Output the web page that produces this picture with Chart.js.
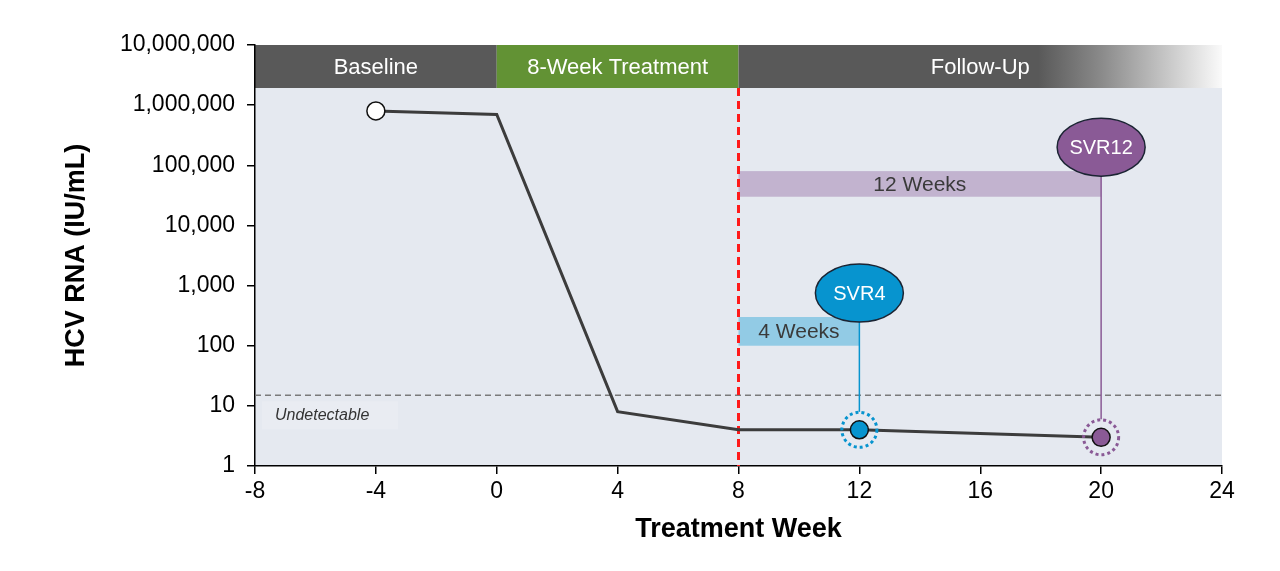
<!DOCTYPE html>
<html>
<head>
<meta charset="utf-8">
<script src="https://cdn.jsdelivr.net/npm/chart.js@4"></script>
<style>
  html, body { margin: 0; padding: 0; background: #fff; }
</style>
</head>
<body>
<canvas id="myChart" width="1280" height="571"></canvas>
<script>
// HCV RNA course: weeks vs IU/mL
const weeks = [-4, 0, 4, 8, 12, 20];
const hcvRna = [800000, 700000, 8, 4, 4, 3];
const yTicks = [1, 10, 100, 1000, 10000, 100000, 1000000, 10000000];

// study phases (header band)
const phaseLabels = ["Baseline", "8-Week Treatment", "Follow-Up"];
const phaseStart = [-8, 0, 8];
const phaseEnd = [0, 8, 24];

// follow-up windows
const windowLabels = ["4 Weeks", "12 Weeks"];
const windowStart = [8, 8];
const windowEnd = [12, 20];
const windowLow = [100, 30000];
const windowHigh = [300, 80000];

// SVR call-outs
const svrLabels = ["SVR4", "SVR12"];
const svrWeek = [12, 20];
const svrBubble = [750, 200000];
const svrLevel = [4, 3];

const lloq = 15;
const treatmentEndWeek = 8;

const FONT = "'Liberation Sans', Arial, Helvetica, sans-serif";
const HEADER_H = 43;
const phaseColors = ["#595959", "#629234", "#595959"];
const windowColors = ["#92cbe5", "#c2b3cf"];
const svrColors = ["#0794cf", "#8a5a96"];

const decor = {
  id: "decor",
  beforeDraw(chart) {
    const { ctx, chartArea: a, scales: { x, y } } = chart;
    ctx.save();
    // plot background under the header
    ctx.fillStyle = "#e5e9f0";
    ctx.fillRect(a.left, a.top + HEADER_H, a.right - a.left, a.bottom - a.top - HEADER_H);

    // header bands
    ctx.font = "22px " + FONT;
    ctx.textAlign = "center";
    ctx.textBaseline = "middle";
    phaseLabels.forEach((label, i) => {
      const x0 = x.getPixelForValue(phaseStart[i]);
      const x1 = x.getPixelForValue(phaseEnd[i]);
      if (i === phaseLabels.length - 1) {
        const g = ctx.createLinearGradient(x0, 0, x1, 0);
        g.addColorStop(0, "#595959");
        g.addColorStop(0.62, "#595959");
        g.addColorStop(0.75, "#8a8a8a");
        g.addColorStop(1, "#fafafa");
        ctx.fillStyle = g;
      } else {
        ctx.fillStyle = phaseColors[i];
      }
      ctx.fillRect(x0, a.top, x1 - x0, HEADER_H);
      ctx.fillStyle = "#ffffff";
      ctx.fillText(label, (x0 + x1) / 2, a.top + HEADER_H / 2 + 1);
    });
    ctx.restore();
  },
  beforeDatasetsDraw(chart) {
    const { ctx, chartArea: a, scales: { x, y } } = chart;
    ctx.save();

    // undetectable label
    const ly = y.getPixelForValue(lloq);
    ctx.fillStyle = "#e9ecf2";
    ctx.fillRect(a.left + 7, ly + 6, 136, 28);
    ctx.fillStyle = "#333333";
    ctx.font = "italic 16px " + FONT;
    ctx.textAlign = "left";
    ctx.textBaseline = "middle";
    ctx.fillText("Undetectable", a.left + 20, ly + 20);

    // LLOQ dashed line
    ctx.strokeStyle = "#7a7a7a";
    ctx.lineWidth = 1.5;
    ctx.setLineDash([6, 4]);
    ctx.beginPath();
    ctx.moveTo(a.left, ly);
    ctx.lineTo(a.right, ly);
    ctx.stroke();
    ctx.setLineDash([]);

    // follow-up windows
    ctx.font = "21px " + FONT;
    ctx.textAlign = "center";
    windowLabels.forEach((label, i) => {
      const x0 = x.getPixelForValue(windowStart[i]);
      const x1 = x.getPixelForValue(windowEnd[i]);
      const y0 = y.getPixelForValue(windowHigh[i]);
      const y1 = y.getPixelForValue(windowLow[i]);
      ctx.fillStyle = windowColors[i];
      ctx.fillRect(x0, y0, x1 - x0, y1 - y0);
      ctx.fillStyle = "#3a3a3a";
      ctx.fillText(label, (x0 + x1) / 2, (y0 + y1) / 2 + 1);
    });

    // end of treatment
    const tx = x.getPixelForValue(treatmentEndWeek);
    ctx.strokeStyle = "#ff1a1a";
    ctx.lineWidth = 3;
    ctx.setLineDash([8, 5]);
    ctx.beginPath();
    ctx.moveTo(tx, a.top + HEADER_H);
    ctx.lineTo(tx, a.bottom);
    ctx.stroke();
    ctx.setLineDash([]);

    // connectors
    svrLabels.forEach((label, i) => {
      const cx = x.getPixelForValue(svrWeek[i]);
      ctx.strokeStyle = svrColors[i];
      ctx.lineWidth = 1.5;
      ctx.beginPath();
      ctx.moveTo(cx, y.getPixelForValue(svrBubble[i]));
      ctx.lineTo(cx, y.getPixelForValue(svrLevel[i]) - 18);
      ctx.stroke();
    });
    ctx.restore();
  },
  afterDatasetsDraw(chart) {
    const { ctx, scales: { x, y } } = chart;
    ctx.save();
    svrLabels.forEach((label, i) => {
      const cx = x.getPixelForValue(svrWeek[i]);
      // dotted ring round the marker
      const py = y.getPixelForValue(svrLevel[i]);
      ctx.strokeStyle = svrColors[i];
      ctx.lineWidth = 3;
      ctx.setLineDash([3, 3]);
      ctx.beginPath();
      ctx.arc(cx, py, 17.5, 0, Math.PI * 2);
      ctx.stroke();
      ctx.setLineDash([]);

      // bubble
      const by = y.getPixelForValue(svrBubble[i]);
      ctx.fillStyle = svrColors[i];
      ctx.strokeStyle = "#1b2433";
      ctx.lineWidth = 1.5;
      ctx.beginPath();
      ctx.ellipse(cx, by, 44, 29, 0, 0, Math.PI * 2);
      ctx.fill();
      ctx.stroke();
      ctx.fillStyle = "#ffffff";
      ctx.font = "20px " + FONT;
      ctx.textAlign = "center";
      ctx.textBaseline = "middle";
      ctx.fillText(label, cx, by + 1);
    });
    ctx.restore();
  }
};

const ctx = document.getElementById("myChart").getContext("2d");
const myChart = new Chart(ctx, {
  type: "line",
  data: {
    labels: weeks,
    datasets: [
      {
        data: weeks.map((w, i) => ({ x: w, y: hcvRna[i] })),
        borderColor: "#3c3c3c",
        borderWidth: 3,
        tension: 0,
        pointRadius: [9, 0, 0, 0, 9, 9],
        pointBackgroundColor: ["#ffffff", "#3c3c3c", "#3c3c3c", "#3c3c3c", svrColors[0], svrColors[1]],
        pointBorderColor: "#111111",
        pointBorderWidth: 1.5,
        clip: false,
      },
    ],
  },
  options: {
    responsive: false,
    animation: false,
    layout: { padding: { left: 60, right: 58, top: 45, bottom: 25 } },
    plugins: {
      legend: { display: false },
      tooltip: { enabled: false },
    },
    scales: {
      x: {
        type: "linear",
        min: -8,
        max: 24,
        ticks: { stepSize: 4, color: "#000", font: { family: FONT, size: 23 }, padding: 4 },
        grid: { drawOnChartArea: false, tickLength: 8, color: "#000", lineWidth: 1.5 },
        border: { display: true, color: "#000", width: 1.5 },
        title: {
          display: true,
          text: "Treatment Week",
          color: "#000",
          font: { family: FONT, size: 27, weight: "bold" },
          padding: 0,
        },
        afterFit(scale) { scale.height = 80; },
      },
      y: {
        type: "logarithmic",
        min: 1,
        max: 10000000,
        afterBuildTicks(scale) {
          scale.ticks = yTicks.map((v) => ({ value: v }));
        },
        ticks: {
          color: "#000",
          font: { family: FONT, size: 23 },
          padding: 12,
          callback: (v) => Number(v).toLocaleString("en-US"),
        },
        grid: { drawOnChartArea: false, tickLength: 8, color: "#000", lineWidth: 1.5 },
        border: { display: true, color: "#000", width: 1.5 },
        title: {
          display: true,
          text: "HCV RNA (IU/mL)",
          color: "#000",
          font: { family: FONT, size: 27, weight: "bold" },
          padding: 0,
        },
        afterFit(scale) { scale.width = 195; },
      },
    },
  },
  plugins: [decor],
});
</script>
</body>
</html>
